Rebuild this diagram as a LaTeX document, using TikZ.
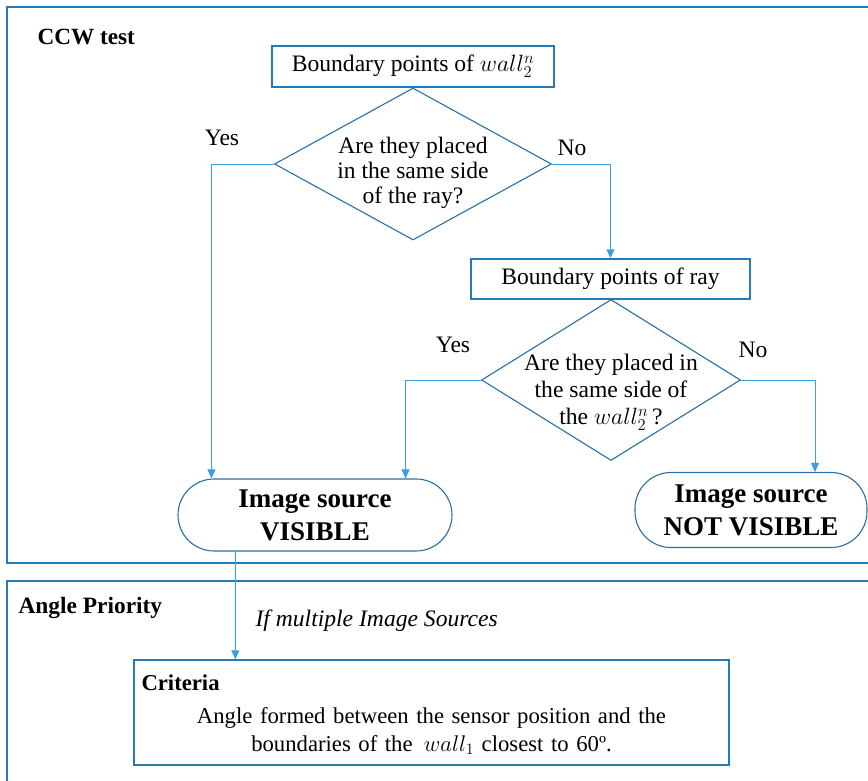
\RequirePackage{fix-cm}
\documentclass[tikz,border=0pt]{standalone}
\usepackage{fontspec}
\setmainfont{Liberation Serif}
\usetikzlibrary{shapes.geometric, arrows.meta}
\definecolor{frameblue}{RGB}{38,122,184}
\definecolor{shapeblue}{RGB}{40,112,165}
\definecolor{arrowblue}{RGB}{55,160,225}
\setlength{\parindent}{0pt}

\begin{document}
\begin{tikzpicture}[x=1pt, y=-1pt,
  font=\fontsize{23.6}{25}\selectfont,
  frame/.style={draw=frameblue, line width=1.8pt},
  stepbox/.style={draw=frameblue, line width=1.4pt, minimum height=41pt, inner sep=0pt},
  decision/.style={draw=shapeblue, line width=1.1pt, diamond, aspect=1.8, inner sep=-10pt, align=center},
  endbox/.style={draw=shapeblue, line width=1.1pt, rounded corners=36pt, align=center, inner sep=0pt,
    font=\fontsize{27}{33}\selectfont\bfseries},
  flow/.style={draw=arrowblue, line width=0.9pt, -{Triangle[width=8pt, length=9pt]}}]
\clip (0,0) rectangle (868,781);
% the two panels
\draw[frame] (7,7) rectangle (890,563);
\draw[frame] (7,581) rectangle (890,800);
\node[anchor=west, font=\fontsize{23.2}{25}\selectfont\bfseries] (ccw) at (34,37) {CCW test};
\node[anchor=west, font=\fontsize{23.4}{25}\selectfont\bfseries] (prio) at (15,608) {Angle Priority};

% CCW test
\node[stepbox, minimum width=282pt] (bw) at (413,66.5) {Boundary points of $wall_2^n$};
\node[decision, minimum width=277pt, minimum height=152pt] (q1) at (413,164) {\rule{0pt}{35pt}Are they placed\\ in the same side\\ of the ray?};
\node[stepbox, minimum width=279pt, minimum height=40pt] (br) at (610.5,279) {Boundary points of ray};
\node[decision, minimum width=259pt, minimum height=161pt, inner sep=-22pt, font=\fontsize{23.6}{27}\selectfont] (q2) at (611,380) {\rule{0pt}{41pt}Are they placed in\\ the same side of\\ the $wall_2^n$\,?};
\node[endbox, minimum width=274pt, minimum height=72pt] (vis) at (315,515) {Image source\\ VISIBLE};
\node[endbox, minimum width=232pt, minimum height=75pt] (nvis) at (751,510) {Image source\\ NOT VISIBLE};

\node (y1) at (222,138) {Yes};
\node (n1) at (572,148) {No};
\node (y2) at (453,345) {Yes};
\node (n2) at (753,350) {No};

\draw[flow] (q1.west) -| ([xshift=34pt]vis.north west);
\draw[flow] (q1.east) -| (br.north);
\draw[flow] (q2.west) -| ([xshift=-47pt]vis.north east);
\draw[flow] (q2.east) -| ([xshift=64pt]nvis.north);

% angle priority
\node[draw=frameblue, line width=1.4pt, minimum width=595pt, minimum height=105pt, text width=580pt, inner sep=0pt,
  font=\fontsize{22.7}{28}\selectfont] (crit) at (431.5,712.5)
  {\rule{0pt}{20pt}\textbf{Criteria}\par\vspace{5pt}{\centering Angle formed between the sensor position and the\\ boundaries of the\, $wall_1$ closest to 60º.\par}};
\node[anchor=west, font=\fontsize{23.6}{25}\selectfont\itshape] (multi) at (252,621) {If multiple Image Sources};
\draw[flow] ([xshift=58pt]vis.south west) -- ([xshift=102pt]crit.north west);
\end{tikzpicture}
\end{document}
